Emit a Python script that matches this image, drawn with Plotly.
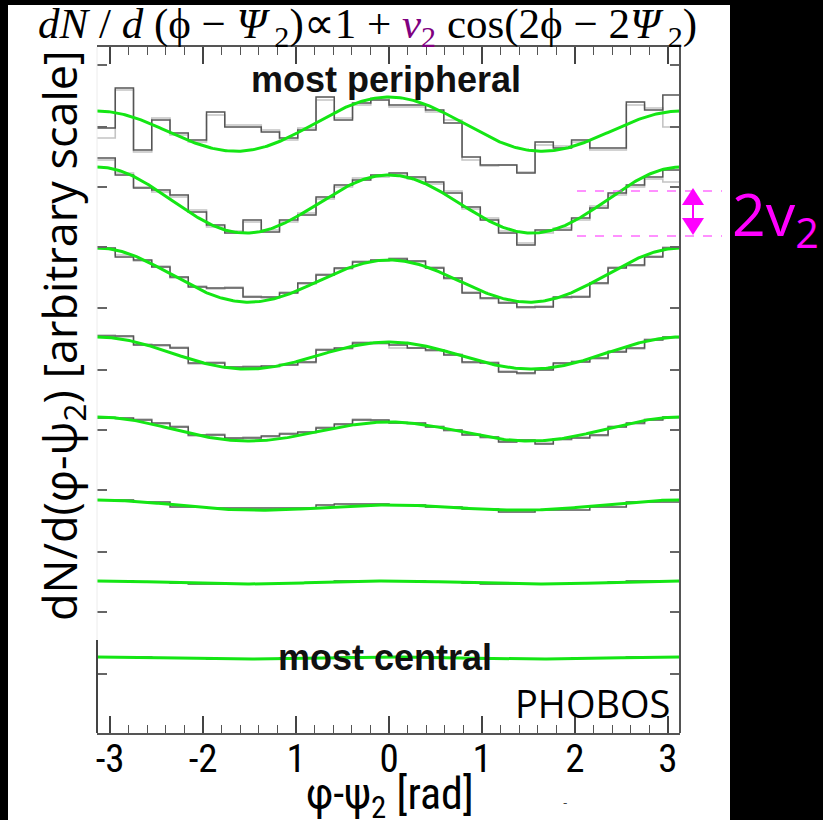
import numpy as np
import plotly.graph_objects as go

# ---------------- data (arbitrary scale units) ----------------
n_bins = 32
x_tick_vals = [-3, -2, -1, 0, 1, 2, 3]
x_tick_text = ["-3", "-2", "1", "0", "1", "2", "3"]
y_tick_vals = [668, 606, 546, 486, 425, 363, 303, 243, 181, 121, 59]

# fitted curve parameters per centrality row (top = most peripheral)
fit_level = [605.5, 531, 455, 378.75, 302.75, 226.75, 150.5, 75]
fit_cos2 = [23.5, 31, 24, 14.75, 10.75, 3.75, 1.5, 1.0]
fit_cos1 = [7, -4, -6, -2.5, -2.5, -2.5, 0, 0]

r1_dark = [605, 645, 583, 613, 600, 593, 621, 606, 606, 601, 595, 603, 636, 613, 630, 633,
           628, 628, 623, 610, 576, 568, 568, 560, 591, 585, 593, 585, 585, 631, 623, 638]
r1_light = [595, 643, 581, 615, 598, 591, 618, 608, 608, 603, 593, 605, 633, 615, 628, 635,
            626, 626, 621, 613, 573, 567, 568, 561, 588, 587, 591, 583, 583, 628, 625, 606]
r2_dark = [575, 558, 545, 543, 538, 521, 508, 500, 513, 501, 513, 518, 536, 548, 553, 558,
           560, 556, 551, 540, 526, 513, 500, 488, 503, 503, 515, 525, 540, 548, 556, 563]
r2_light = [573, 560, 546, 541, 536, 523, 506, 502, 511, 503, 511, 520, 534, 546, 555, 556,
            558, 554, 549, 542, 524, 515, 502, 490, 500, 505, 513, 527, 538, 546, 554, 551]
r3_dark = [485, 476, 473, 466, 456, 446, 445, 445, 436, 436, 440, 450, 458, 465, 471, 473,
           474, 472, 465, 455, 440, 435, 430, 426, 426, 436, 436, 450, 465, 468, 476, 485]
r3_light = [484, 478, 472, 467, 455, 447, 444, 446, 437, 435, 441, 449, 459, 464, 472, 472,
            475, 471, 466, 454, 441, 434, 431, 425, 427, 435, 437, 449, 466, 467, 477, 486]
r4_dark = [397, 397, 388, 388, 385, 370, 370, 366, 366, 367, 368, 371, 383, 385, 390, 390,
           388, 385, 383, 378, 371, 370, 361, 360, 363, 370, 371, 375, 381, 385, 393, 396]
r4_light = [398, 396, 389, 387, 386, 369, 371, 365, 367, 366, 369, 370, 384, 384, 391, 389,
            385, 385, 382, 379, 370, 371, 362, 359, 364, 369, 372, 374, 382, 384, 394, 395]
r5_dark = [315, 315, 313, 310, 306, 298, 298, 295, 295, 297, 299, 301, 305, 309, 313, 313,
           310, 310, 306, 303, 298, 296, 291, 293, 289, 294, 295, 298, 306, 310, 313, 316]
r5_light = [316, 314, 314, 309, 307, 297, 299, 294, 296, 296, 300, 300, 306, 308, 314, 312,
            311, 309, 307, 302, 299, 295, 292, 292, 290, 293, 296, 297, 307, 309, 314, 315]
r6_dark = [233, 233, 231, 231, 226, 226, 225, 225, 225, 225, 225, 225, 228, 229, 229, 229,
           228, 228, 226, 226, 224, 224, 221, 221, 223, 223, 223, 226, 226, 231, 231, 231]
r7_dark = [152, 152, 151, 151, 150, 149, 149, 149, 149, 149, 150, 150, 151, 152, 152, 152,
           152, 152, 151, 151, 150, 149, 149, 149, 149, 149, 150, 150, 151, 152, 152, 152]
r8_dark = [76, 76, 76, 75, 75, 75, 74, 74, 74, 74, 75, 75, 75, 76, 76, 76,
           76, 76, 76, 75, 75, 74, 74, 74, 74, 74, 75, 75, 75, 76, 76, 76]

dark_rows = [r1_dark, r2_dark, r3_dark, r4_dark, r5_dark, r6_dark, r7_dark, r8_dark]
light_rows = [r1_light, r2_light, r3_light, r4_light, r5_light]

# ---------------- figure ----------------
W, H = 823, 820
L, R, T, B = 97, 143, 47, 87
pw, ph = W - L - R, H - T - B


def px_x(p):  # pixel -> paper x
    return (p - L) / pw


def px_y(p):  # pixel -> paper y
    return (H - B - p) / ph


edges = np.linspace(-np.pi, np.pi, n_bins + 1)
phi = np.linspace(-np.pi, np.pi, 400)

fig = go.Figure()

for vals in light_rows:
    fig.add_trace(go.Scatter(x=edges, y=list(vals) + [vals[-1]], mode="lines",
                             line=dict(shape="hv", color="#c4c4c4", width=1.6),
                             hoverinfo="skip", showlegend=False))
for vals in dark_rows:
    fig.add_trace(go.Scatter(x=edges, y=list(vals) + [vals[-1]], mode="lines",
                             line=dict(shape="hv", color="#555555", width=1.5),
                             hoverinfo="skip", showlegend=False))
for lvl, c2, c1 in zip(fit_level, fit_cos2, fit_cos1):
    fig.add_trace(go.Scatter(x=phi, y=lvl + c2 * np.cos(2 * phi) + c1 * np.cos(phi),
                             mode="lines", line=dict(color="#14e614", width=3),
                             hoverinfo="skip", showlegend=False))

shapes = [
    # white page area
    dict(type="rect", xref="paper", yref="paper", x0=px_x(8), x1=px_x(730),
         y0=px_y(822), y1=px_y(5), fillcolor="white", line=dict(width=0), layer="below"),
    # right frame line
    dict(type="line", xref="paper", yref="paper", x0=1, x1=1, y0=0, y1=1,
         line=dict(color="#555555", width=2)),
    # faint left frame line
    dict(type="line", xref="paper", yref="paper", x0=0, x1=0, y0=0, y1=1,
         line=dict(color="#ececec", width=1)),
    dict(type="line", xref="paper", yref="paper", x0=0, x1=0, y0=0, y1=px_y(640),
         line=dict(color="#444444", width=2)),
    # magenta dashed guide lines
    dict(type="line", xref="paper", yref="paper", x0=px_x(577), x1=px_x(722),
         y0=px_y(191), y1=px_y(191), line=dict(color="#ff22ff", width=1, dash="dash")),
    dict(type="line", xref="paper", yref="paper", x0=px_x(577), x1=px_x(722),
         y0=px_y(236), y1=px_y(236), line=dict(color="#ff22ff", width=1, dash="dash")),
    # double arrow
    dict(type="line", xref="paper", yref="paper", x0=px_x(693), x1=px_x(693),
         y0=px_y(204), y1=px_y(219), line=dict(color="#ff00ff", width=2)),
    dict(type="path", xref="paper", yref="paper",
         path=f"M {px_x(693)} {px_y(188)} L {px_x(682)} {px_y(205)} L {px_x(704)} {px_y(205)} Z",
         fillcolor="#ff00ff", line=dict(width=0)),
    dict(type="path", xref="paper", yref="paper",
         path=f"M {px_x(693)} {px_y(235)} L {px_x(682)} {px_y(218)} L {px_x(704)} {px_y(218)} Z",
         fillcolor="#ff00ff", line=dict(width=0)),
]

narrow = "Liberation Sans Narrow, Roboto Condensed, DejaVu Sans Condensed, sans-serif"

annotations = [
    dict(text="<i>dN</i> / <i>d</i> (ϕ − <i>Ψ</i><sub> 2</sub>)∝1 + "
              "<span style='color:#800080'><i>v</i><sub>2</sub></span> cos(2ϕ − 2<i>Ψ</i><sub> 2</sub>)",
         xref="paper", yref="paper", x=px_x(367), y=px_y(27), showarrow=False,
         font=dict(family="Liberation Serif, serif", size=43, color="black"),
         xanchor="center", yanchor="middle"),
    dict(text="dN/d(φ-ψ<sub>2</sub>) [arbitrary scale]", textangle=-90,
         xref="paper", yref="paper", x=px_x(62), y=px_y(336), showarrow=False,
         font=dict(family="Open Sans, sans-serif", size=45, color="black"),
         xanchor="center", yanchor="middle"),
    dict(text="φ-ψ<sub>2</sub> [rad]", xref="paper", yref="paper",
         x=px_x(390), y=px_y(797), showarrow=False,
         font=dict(family=narrow, size=44, color="black"),
         xanchor="center", yanchor="middle"),
    dict(text="<b>most peripheral</b>", xref="paper", yref="paper",
         x=px_x(386), y=px_y(80), showarrow=False,
         font=dict(family="Liberation Sans, Arial, sans-serif", size=36, color="#111111"),
         xanchor="center", yanchor="middle"),
    dict(text="<b>most central</b>", xref="paper", yref="paper",
         x=px_x(385), y=px_y(657), showarrow=False,
         font=dict(family="Liberation Sans, Arial, sans-serif", size=36, color="#111111"),
         xanchor="center", yanchor="middle"),
    dict(text="PHOBOS", xref="paper", yref="paper",
         x=px_x(592), y=px_y(703), showarrow=False,
         font=dict(family="Open Sans, sans-serif", size=38, color="black"),
         xanchor="center", yanchor="middle"),
    dict(text="2v<sub>2</sub>", xref="paper", yref="paper",
         x=px_x(730), y=px_y(216), showarrow=False,
         font=dict(family="Open Sans, sans-serif", size=59, color="#ff00ff"),
         xanchor="left", yanchor="middle"),
    dict(text="-", xref="paper", yref="paper",
         x=px_x(565), y=px_y(803), showarrow=False,
         font=dict(family="DejaVu Sans", size=12, color="#444444"),
         xanchor="center", yanchor="middle"),
]

fig.update_layout(
    width=W, height=H,
    margin=dict(l=L, r=R, t=T, b=B, pad=0),
    paper_bgcolor="black", plot_bgcolor="white",
    shapes=shapes, annotations=annotations, showlegend=False,
    xaxis=dict(range=[-3.1416, 3.13], tickvals=x_tick_vals, ticktext=x_tick_text,
               ticks="inside", ticklen=17, tickwidth=1.5, tickcolor="#444444",
               minor=dict(dtick=0.2, tick0=0, ticks="inside", ticklen=8,
                          tickwidth=1.2, tickcolor="#555555"),
               showline=True, linecolor="#555555", linewidth=2, mirror="ticks",
               showgrid=False, zeroline=False,
               tickfont=dict(family=narrow, size=39, color="black"),
               ticklabelstandoff=-10),
    yaxis=dict(range=[0, ph], tickvals=y_tick_vals, showticklabels=False,
               ticks="inside", ticklen=10, tickwidth=2, tickcolor="#666666",
               showline=False, mirror="ticks", showgrid=False, zeroline=False),
)

fig.write_html("out.html",
               config={"displayModeBar": False},
               post_script="document.body.style.margin='0px';"
                           "document.body.style.padding='0px';"
                           "document.body.style.background='black';")
